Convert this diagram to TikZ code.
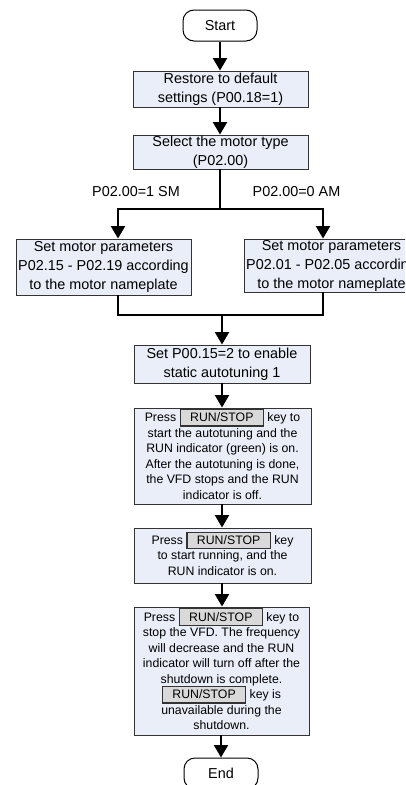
\documentclass[tikz,border=0pt]{standalone}
\usepackage{fontspec}
\setmainfont{Liberation Sans}
\usetikzlibrary{arrows.meta}
\definecolor{boxfill}{HTML}{E9EEF8}
\definecolor{keyfill}{HTML}{D9D9D9}
\definecolor{edgecol}{HTML}{333333}
\newcommand{\keyb}{\smash{\setlength{\fboxsep}{0pt}\setlength{\fboxrule}{1.2pt}\fcolorbox{edgecol}{keyfill}{\rule[-3.8pt]{0pt}{15.5pt}\makebox[82pt]{RUN/STOP}}}}
\begin{document}
\begin{tikzpicture}[x=1pt,y=-1pt,
  proc/.style={draw=edgecol, line width=0.9pt, fill=boxfill, align=center, inner sep=0pt,
    font=\fontsize{14.4}{19}\selectfont},
  small/.style={font=\fontsize{12.3}{15.5}\selectfont},
  term/.style={draw=black, line width=1pt, rounded corners=11pt, fill=white,
    minimum width=74pt, minimum height=31pt, inner sep=0pt, font=\fontsize{14.4}{17}\selectfont},
  lbl/.style={inner sep=0pt, font=\fontsize{14.4}{17}\selectfont},
  conn/.style={line width=2pt},
  arr/.style={line width=2pt, -{Triangle[length=12.5pt,width=14pt]}}]
\useasboundingbox (0,0) rectangle (405,785);
\clip (0,0) rectangle (405,785);

\node[term] (start) at (220,25.5) {Start};
\node[proc, minimum width=175pt, minimum height=36pt] (restore) at (220.5,89)
  {Restore to default\\settings (P00.18=1)};
\node[proc, minimum width=175pt, minimum height=34pt] (select) at (220.5,152)
  {Select the motor type\\(P02.00)};
\node[lbl] (lsm) at (136,192) {P02.00=1 SM};
\node[lbl] (lam) at (296.5,192) {P02.00=0 AM};
\node[proc, minimum width=175pt, minimum height=56pt] (left) at (103.5,267)
  {Set motor parameters\\P02.15 - P02.19 according\\to the motor nameplate};
\node[proc, minimum width=175pt, minimum height=53pt] (right) at (331.5,265.5)
  {Set motor parameters\\P02.01 - P02.05 according\\to the motor nameplate};
\node[proc, minimum width=176pt, minimum height=38pt] (setp) at (222,364)
  {Set P00.15=2 to enable\\static autotuning 1};
\node[proc, small, minimum width=177pt, minimum height=96pt] (press1) at (222.5,456)
  {Press \keyb\ key to\\start the autotuning and the\\RUN indicator (green) is on.\\After the autotuning is done,\\the VFD stops and the RUN\\indicator is off.};
\node[proc, small, minimum width=177pt, minimum height=55pt] (press2) at (222.5,555.5)
  {Press \keyb\ key\\to start running, and the\\RUN indicator is on.};
\node[proc, small, minimum width=175pt, minimum height=128pt] (press3) at (221.5,671)
  {Press \keyb\ key to\\stop the VFD. The frequency\\will decrease and the RUN\\indicator will turn off after the\\shutdown is complete.\\\keyb\ key is\\unavailable during the\\shutdown.};
\node[term] (end) at (221,773.5) {End};

\coordinate (br) at (220,209);
\coordinate (lx) at (118,0);
\coordinate (rx) at (323,0);
\coordinate (mg) at (222,315);

\draw[arr] (start.south) -- (start.south |- restore.north);
\draw[arr] (restore.south -| start.south) -- (start.south |- select.north);
\draw[conn] (select.south -| br) -- (br);
\draw[arr] (br) -| (lx |- left.north);
\draw[arr] (br) -| (rx |- right.north);
\draw[conn] (lx |- left.south) |- (mg) -| (rx |- right.south);
\draw[arr] (mg) -- (setp.north -| mg);
\draw[arr] (setp.south -| mg) -- (press1.north -| mg);
\draw[arr] (press1.south -| mg) -- (press2.north -| mg);
\draw[arr] (press2.south -| mg) -- (press3.north -| mg);
\draw[arr] (press3.south -| end) -- (end.north);
\end{tikzpicture}
\end{document}
